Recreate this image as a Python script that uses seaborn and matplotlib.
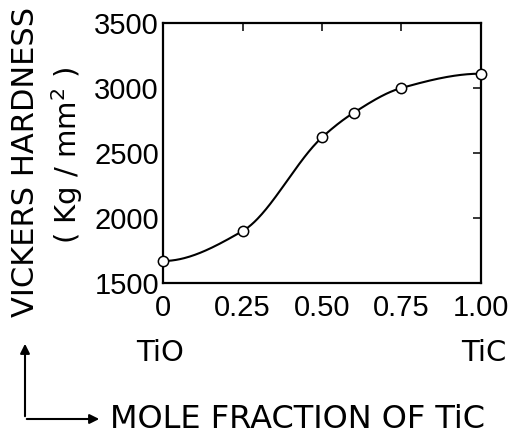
import numpy as np
import pandas as pd
import matplotlib
matplotlib.use("Agg")
import matplotlib.pyplot as plt
import seaborn as sns

# Vickers hardness of TiO-TiC solid solutions
mole_fraction = [0.0, 0.25, 0.50, 0.60, 0.75, 1.00]
hardness = [1670, 1900, 2620, 2810, 3000, 3110]
x_ticks = [0, 0.25, 0.50, 0.75, 1.00]
x_tick_labels = ["0", "0.25", "0.50", "0.75", "1.00"]
y_ticks = [1500, 2000, 2500, 3000, 3500]
y_tick_labels = ["1500", "2000", "2500", "3000", "3500"]


def pchip(x, y, xs):
    """Monotone piecewise cubic Hermite curve through (x, y), evaluated at xs."""
    x = np.asarray(x, float)
    y = np.asarray(y, float)
    h = np.diff(x)
    d = np.diff(y) / h
    n = len(x)
    m = np.zeros(n)
    for k in range(1, n - 1):
        if d[k - 1] * d[k] > 0:
            w1 = 2 * h[k] + h[k - 1]
            w2 = h[k] + 2 * h[k - 1]
            m[k] = (w1 + w2) / (w1 / d[k - 1] + w2 / d[k])
    # three-point end slopes
    m[0] = ((2 * h[0] + h[1]) * d[0] - h[0] * d[1]) / (h[0] + h[1])
    if np.sign(m[0]) != np.sign(d[0]):
        m[0] = 0
    m[-1] = ((2 * h[-1] + h[-2]) * d[-1] - h[-1] * d[-2]) / (h[-1] + h[-2])
    if np.sign(m[-1]) != np.sign(d[-1]):
        m[-1] = 0
    idx = np.clip(np.searchsorted(x, xs) - 1, 0, n - 2)
    t = (xs - x[idx]) / h[idx]
    h00 = 2 * t ** 3 - 3 * t ** 2 + 1
    h10 = t ** 3 - 2 * t ** 2 + t
    h01 = -2 * t ** 3 + 3 * t ** 2
    h11 = t ** 3 - t ** 2
    return (h00 * y[idx] + h10 * h[idx] * m[idx]
            + h01 * y[idx + 1] + h11 * h[idx] * m[idx + 1])


points = pd.DataFrame({"x": mole_fraction, "y": hardness})
xs = np.linspace(0, 1, 300)
curve = pd.DataFrame({"x": xs, "y": pchip(mole_fraction, hardness, xs)})

sns.set_style("white")
plt.rcParams["font.family"] = ["Liberation Sans", "DejaVu Sans"]
plt.rcParams["text.color"] = "black"

fig = plt.figure(figsize=(5.21, 4.41), dpi=100)
ax = fig.add_axes([0.313, 0.358, 0.610, 0.590])

sns.lineplot(data=curve, x="x", y="y", ax=ax, color="black", linewidth=1.5)
sns.scatterplot(data=points, x="x", y="y", ax=ax, marker="o", s=55,
                facecolor="white", edgecolor="black", linewidth=1.1, zorder=3,
                clip_on=False)

ax.set_xlim(0, 1.0)
ax.set_ylim(1500, 3500)
ax.set_xticks(x_ticks)
ax.set_xticklabels(x_tick_labels)
ax.set_yticks(y_ticks)
ax.set_yticklabels(y_tick_labels)
ax.tick_params(direction="in", length=6, width=1.1, top=True, right=True,
               labelsize=21, colors="black")
ax.tick_params(axis="x", pad=8)
ax.tick_params(axis="y", pad=3)
for sp in ax.spines.values():
    sp.set_visible(True)
    sp.set_color("black")
    sp.set_linewidth(1.6)
ax.set_xlabel("")
ax.set_ylabel("")

# Two-line y label
fig.text(0.048, 1 - 162 / 441, "VICKERS HARDNESS", rotation=90, ha="center",
         va="center", fontsize=22, family="DejaVu Sans", color="black")
fig.text(0.129, 1 - 155 / 441, "( Kg / mm$^2$ )", rotation=90, ha="center",
         va="center", fontsize=21, family="DejaVu Sans", color="black")

# End-member labels
fig.text(160 / 521, 1 - 353 / 441, "TiO", ha="center", va="center", fontsize=21,
         family="DejaVu Sans", color="black")
fig.text(484 / 521, 1 - 353 / 441, "TiC", ha="center", va="center", fontsize=21,
         family="DejaVu Sans", color="black")

# Axis-direction arrows
fig.add_artist(matplotlib.patches.FancyArrowPatch(
    (25 / 521, 1 - 419 / 441), (25 / 521, 1 - 341 / 441),
    transform=fig.transFigure, arrowstyle="-|>", mutation_scale=14,
    color="black", linewidth=1.5))
fig.add_artist(matplotlib.patches.FancyArrowPatch(
    (24 / 521, 1 - 419 / 441), (102 / 521, 1 - 419 / 441),
    transform=fig.transFigure, arrowstyle="-|>", mutation_scale=14,
    color="black", linewidth=1.5))
fig.text(110 / 521, 1 - 419 / 441, "MOLE FRACTION OF TiC", ha="left", va="center",
         fontsize=23, family="DejaVu Sans", color="black")

fig.savefig("out.png", dpi=100, facecolor="white")
